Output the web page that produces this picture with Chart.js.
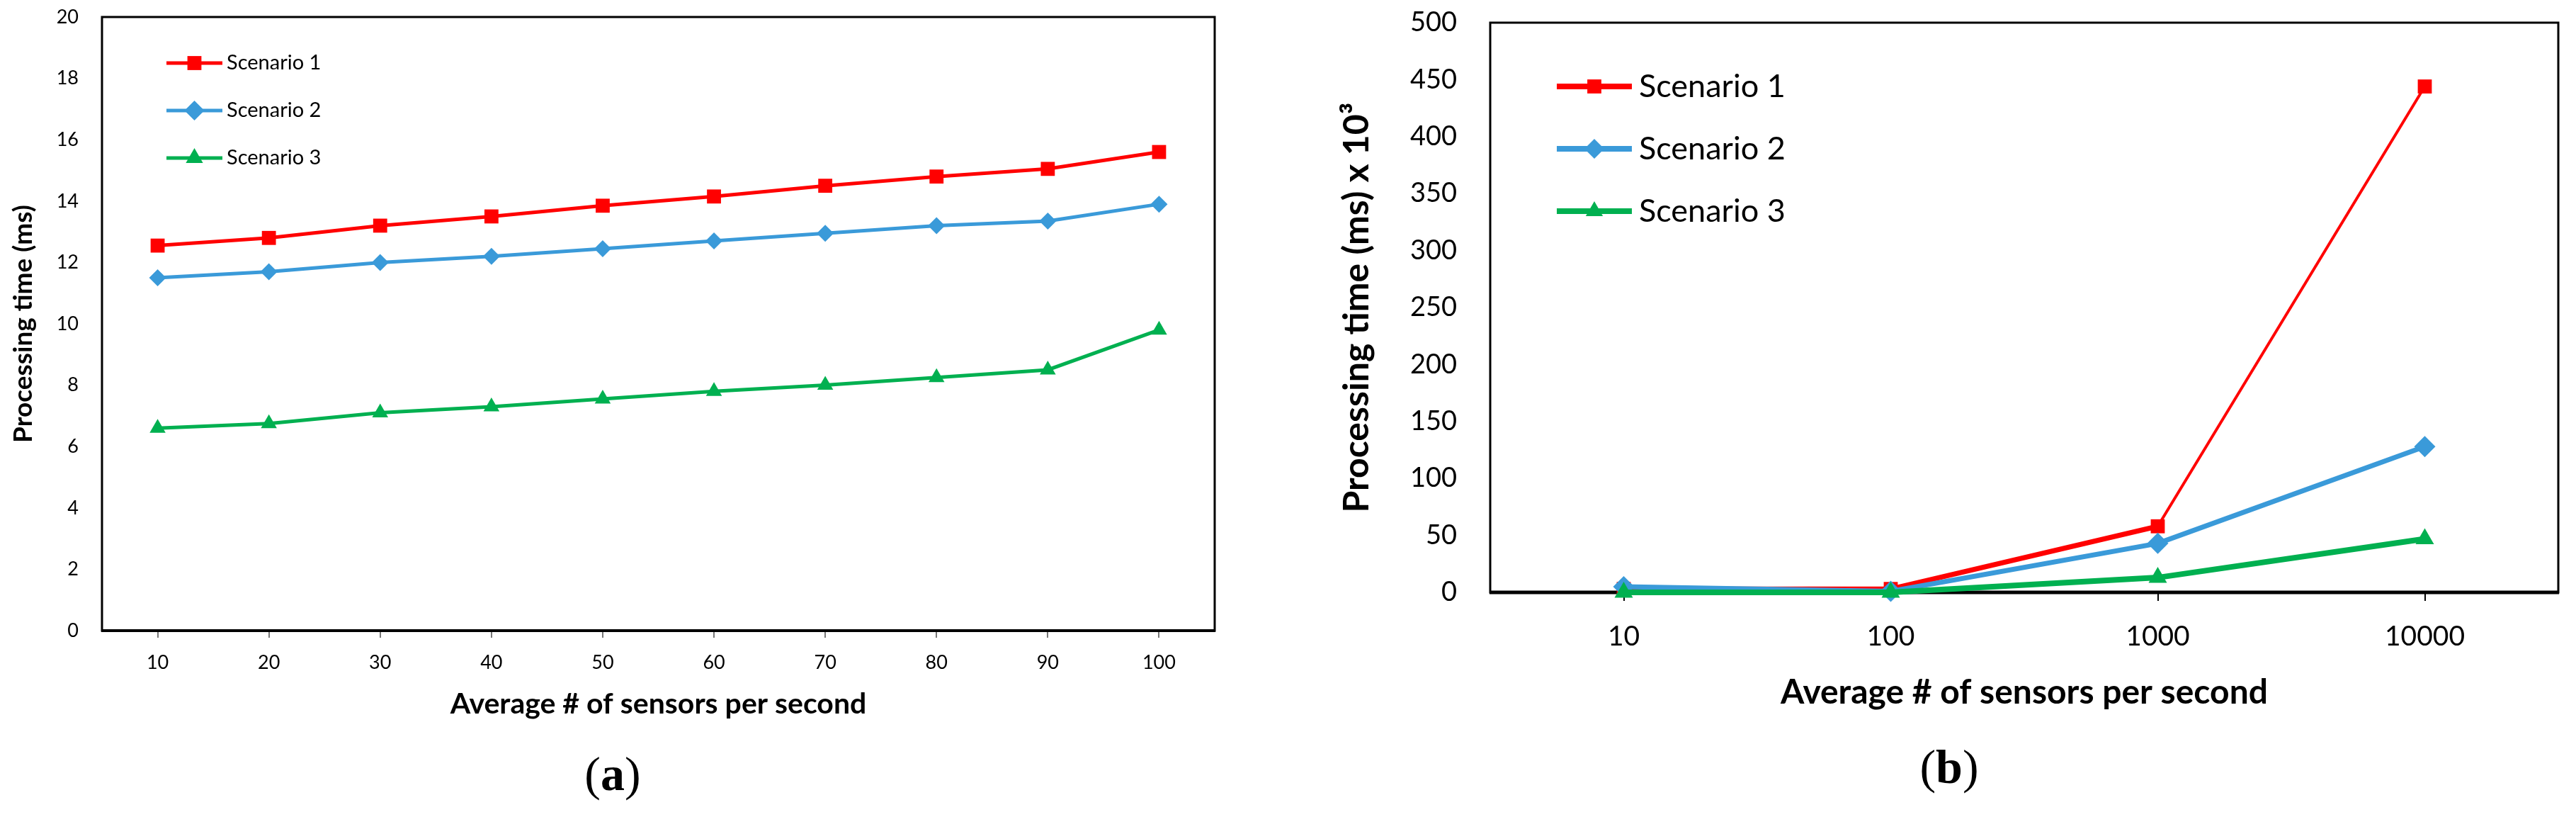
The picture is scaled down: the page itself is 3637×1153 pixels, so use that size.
<!DOCTYPE html>
<html><head><meta charset="utf-8">
<script src="https://cdn.jsdelivr.net/npm/chart.js@4.4.1/dist/chart.umd.min.js"></script>
<style>
html,body{margin:0;padding:0;background:#fff;}
body{width:3637px;height:1153px;position:relative;overflow:hidden;}
#wa{position:absolute;left:0;top:0;width:1780px;height:1060px;}
#wb{position:absolute;left:1800px;top:0;width:1837px;height:1060px;}
.cap{position:absolute;font-family:'Liberation Serif',serif;font-size:68px;transform:translate(-50%,-50%);color:#000;white-space:nowrap;}
</style></head><body>
<div id="wa"><canvas id="ca"></canvas></div>
<div id="wb"><canvas id="cb"></canvas></div>
<div class="cap" style="left:865px;top:1092px">(<b>a</b>)</div>
<div class="cap" style="left:2752px;top:1082px">(<b>b</b>)</div>
<script>
// ---------- data (a) ----------
const categoriesA = ['10','20','30','40','50','60','70','80','90','100'];
const scenario1A = [12.55, 12.8, 13.2, 13.5, 13.85, 14.15, 14.5, 14.8, 15.05, 15.6];
const scenario2A = [11.5, 11.7, 12.0, 12.2, 12.45, 12.7, 12.95, 13.2, 13.35, 13.9];
const scenario3A = [6.6, 6.75, 7.1, 7.3, 7.55, 7.8, 8.0, 8.25, 8.5, 9.8];
// ---------- data (b) ----------
const categoriesB = ['10','100','1000','10000'];
const scenario1B = [3, 3, 58, 444];
const scenario2B = [5, 1, 43, 128];
const scenario3B = [0, 0, 13, 47];
const seriesNames = ['Scenario 1','Scenario 2','Scenario 3'];

const RED = '#FF0000', BLUE = '#3A9AD9', GREEN = '#00B050';

const boxPlugin = {
  id: 'box',
  beforeDatasetsDraw(chart, args, opts) {
    const {ctx, chartArea: {left, top, right, bottom}} = chart;
    ctx.save();
    ctx.strokeStyle = '#000';
    ctx.lineWidth = opts.width || 3;
    ctx.strokeRect(left, top, right - left, bottom - top);
    ctx.lineWidth = opts.bottomWidth || opts.width || 3;
    ctx.beginPath(); ctx.moveTo(left - 1, bottom); ctx.lineTo(right + 1, bottom); ctx.stroke();
    ctx.restore();
  }
};

const insideLegend = {
  id: 'insideLegend',
  afterDatasetsDraw(chart, args, opts) {
    const {ctx, chartArea} = chart;
    chart.data.datasets.forEach((ds, i) => {
      const y = chartArea.top + opts.top + i * opts.step;
      const x0 = chartArea.left + opts.x0, x1 = chartArea.left + opts.x1;
      ctx.save();
      ctx.strokeStyle = ds.borderColor; ctx.lineWidth = opts.lineWidth;
      ctx.beginPath(); ctx.moveTo(x0, y); ctx.lineTo(x1, y); ctx.stroke();
      ctx.fillStyle = ds.backgroundColor;
      Chart.helpers.drawPoint(ctx, {pointStyle: ds.pointStyle, radius: opts.radius, borderWidth: 0, rotation: 0}, (x0 + x1) / 2, y);
      ctx.fillStyle = '#000';
      ctx.font = opts.fontSize + 'px Lato';
      ctx.textBaseline = 'middle'; ctx.textAlign = 'left';
      ctx.fillText(ds.label, chartArea.left + opts.tx, y);
      ctx.restore();
    });
  }
};

Chart.defaults.font.family = 'Lato';
Chart.defaults.color = '#000';

function mk(label, data, color, style, width, radius, order, extra) {
  return Object.assign({
    label, data, borderColor: color, backgroundColor: color, borderWidth: width,
    pointStyle: style, pointRadius: radius, pointHoverRadius: radius, pointBorderWidth: 0,
    pointBackgroundColor: color, tension: 0, clip: false, order
  }, extra || {});
}

// pin the plot area to the wanted box by correcting the layout padding
function fitArea(chart, pad, t) {
  for (let k = 0; k < 3; k++) {
    const a = chart.chartArea;
    pad.top += t.top - a.top;
    pad.left += t.left - a.left;
    pad.right += a.right - t.right;
    pad.bottom += a.bottom - t.bottom;
    chart.options.layout.padding = Object.assign({}, pad);
    chart.update('none');
  }
}

// ---------- chart (a) ----------
const padA = {left: 0, top: 24, right: 65, bottom: 44};
const chartA = new Chart(document.getElementById('ca'), {
  type: 'line',
  data: {labels: categoriesA, datasets: [
    mk(seriesNames[0], scenario1A, RED, 'rect', 5, 14, 3),
    mk(seriesNames[1], scenario2A, BLUE, 'rectRot', 5, 12, 2),
    mk(seriesNames[2], scenario3A, GREEN, 'triangle', 5, 13, 1)]},
  options: {
    responsive: true, maintainAspectRatio: false, animation: false,
    layout: {padding: Object.assign({}, padA)},
    plugins: {legend: {display: false}, tooltip: {enabled: false}, box: {width: 3, bottomWidth: 4},
      insideLegend: {top: 65, step: 67, x0: 91, x1: 170, tx: 176, lineWidth: 5, radius: 14, fontSize: 29}},
    scales: {
      x: {type: 'category', offset: true,
        grid: {display: true, drawOnChartArea: false, drawTicks: true, tickLength: 10, offset: false, color: '#777', lineWidth: 2},
        border: {display: false},
        ticks: {font: {size: 27}, padding: 19, maxRotation: 0, autoSkip: false},
        title: {display: true, text: 'Average # of sensors per second', font: {size: 41, weight: 'bold', family: 'Lato'}, padding: {top: 0, bottom: 0}},
        afterFit(s) { s.height = 128; }},
      y: {min: 0, max: 20,
        grid: {display: true, drawOnChartArea: false, drawTicks: true, tickLength: 33, color: 'rgba(0,0,0,0)'},
        border: {display: false},
        ticks: {stepSize: 2, font: {size: 27}, padding: 0},
        title: {display: true, text: 'Processing time (ms)', font: {size: 37, weight: 'bold', family: 'Lato'}, padding: {top: 11, bottom: 0}},
        afterFit(s) { s.width = 144; }}
    }
  },
  plugins: [boxPlugin, insideLegend]
});
fitArea(chartA, padA, {left: 144, top: 24, right: 1715, bottom: 890});

// ---------- chart (b) ----------
const padB = {left: 0, top: 32, right: 25, bottom: 54};
const chartB = new Chart(document.getElementById('cb'), {
  type: 'line',
  data: {labels: categoriesB, datasets: [
    mk(seriesNames[0], scenario1B, RED, 'rect', 7, 14, 3, {segment: {borderWidth: c => c.p0DataIndex === 2 ? 4 : 7}}),
    mk(seriesNames[1], scenario2B, BLUE, 'rectRot', 7, 15, 2),
    mk(seriesNames[2], scenario3B, GREEN, 'triangle', 8, 15, 1)]},
  options: {
    responsive: true, maintainAspectRatio: false, animation: false,
    layout: {padding: Object.assign({}, padB)},
    plugins: {legend: {display: false}, tooltip: {enabled: false}, box: {width: 3, bottomWidth: 5},
      insideLegend: {top: 90, step: 88, x0: 94, x1: 200, tx: 210, lineWidth: 8, radius: 14, fontSize: 45}},
    scales: {
      x: {type: 'category', offset: true,
        grid: {display: true, drawOnChartArea: false, drawTicks: true, tickLength: 12, offset: false, color: '#000', lineWidth: 2},
        border: {display: false},
        ticks: {font: {size: 39}, padding: 27, maxRotation: 0, autoSkip: false},
        title: {display: true, text: 'Average # of sensors per second', font: {size: 48, weight: 'bold', family: 'Lato'}, padding: {top: 0, bottom: 0}},
        afterFit(s) { s.height = 170; }},
      y: {min: 0, max: 500,
        grid: {display: true, drawOnChartArea: false, drawTicks: true, tickLength: 47, color: 'rgba(0,0,0,0)'},
        border: {display: false},
        ticks: {stepSize: 50, font: {size: 38}, padding: 0},
        title: {display: true, text: 'Processing time (ms) x 10³', font: {size: 50, weight: 'bold', family: 'Lato'}, padding: {top: 86, bottom: 0}},
        afterFit(s) { s.width = 304; }}
    }
  },
  plugins: [boxPlugin, insideLegend]
});
fitArea(chartB, padB, {left: 304, top: 32, right: 1812, bottom: 836});
</script>
</body></html>
